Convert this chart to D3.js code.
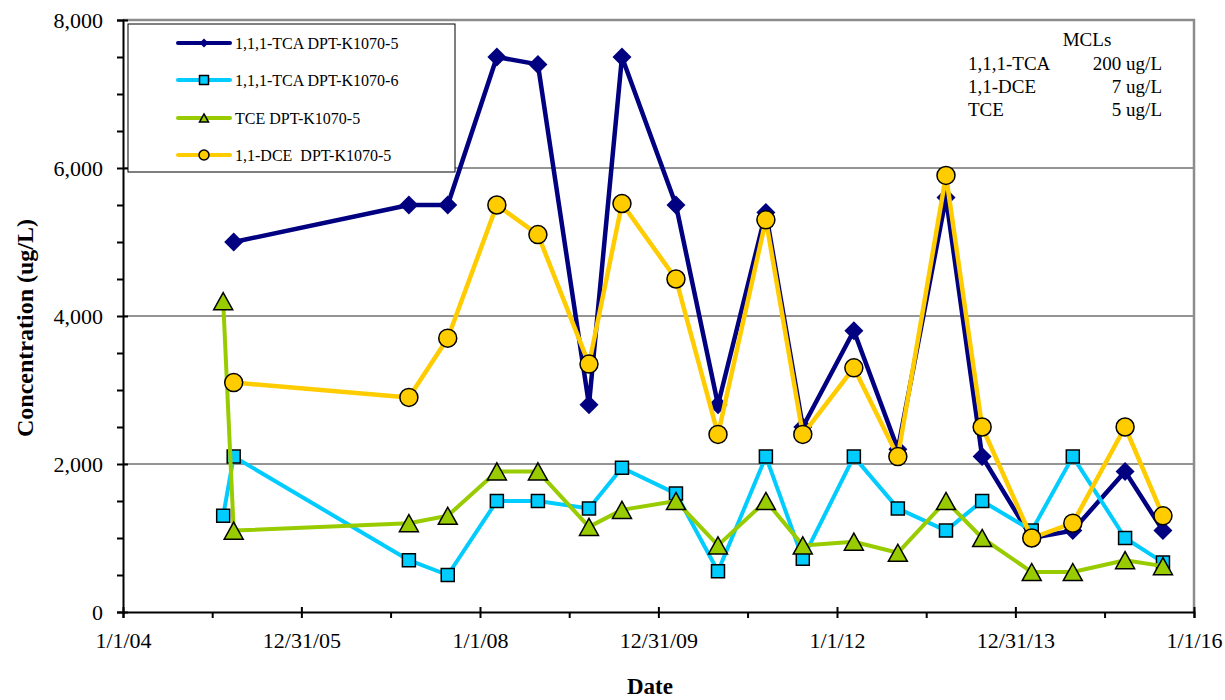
<!DOCTYPE html>
<html>
<head>
<meta charset="utf-8">
<script src="https://cdn.jsdelivr.net/npm/d3@7"></script>
<style>
  body { margin: 0; background: #fff; }
  svg { display: block; }
  text { font-family: "Liberation Serif", "Times New Roman", serif; fill: #000; }
</style>
</head>
<body>
<svg id="chart" width="1225" height="700"></svg>
<script>
// Sampling dates for well DPT-K1070 (null = not sampled for that series)
const sampleDates = [
  "2005-02-14", "2005-03-29", "2007-03-16", "2007-08-22", "2008-03-10",
  "2008-08-25", "2009-03-22", "2009-08-04", "2010-03-13", "2010-09-01",
  "2011-03-16", "2011-08-14", "2012-03-10", "2012-09-06", "2013-03-22",
  "2013-08-17", "2014-03-08", "2014-08-23", "2015-03-25", "2015-08-27"
];
const tca5 = [null, 5000, 5500, 5500, 7500, 7400, 2800, 7500, 5500, 2800,
              5400, 2500, 3800, 2200, 5600, 2100, 1000, 1100, 1900, 1100];
const tca6 = [1300, 2100, 700, 500, 1500, 1500, 1400, 1950, 1600, 550,
              2100, 720, 2100, 1400, 1100, 1500, 1100, 2100, 1000, 670];
const tce5 = [4200, 1100, 1200, 1300, 1900, 1900, 1150, 1380, 1500, 900,
              1500, 900, 950, 800, 1500, 1000, 540, 540, 700, 620];
const dce5 = [null, 3100, 2900, 3700, 5500, 5100, 3350, 5520, 4500, 2400,
              5300, 2400, 3300, 2100, 5900, 2500, 1000, 1200, 2500, 1300];

const seriesNames = ["1,1,1-TCA DPT-K1070-5", "1,1,1-TCA DPT-K1070-6", "TCE DPT-K1070-5", "1,1-DCE  DPT-K1070-5"];

// Axis ticks
const xTickDates = ["2004-01-01", "2005-12-31", "2008-01-01", "2009-12-31", "2012-01-01", "2013-12-31", "2016-01-01"];
const xTickLabels = ["1/1/04", "12/31/05", "1/1/08", "12/31/09", "1/1/12", "12/31/13", "1/1/16"];
const yTicks = [0, 2000, 4000, 6000, 8000];
const yMinorTicks = [500, 1000, 1500, 2500, 3000, 3500, 4500, 5000, 5500, 6500, 7000, 7500];

// MCL note
const mclTitle = "MCLs";
const mclNames = ["1,1,1-TCA", "1,1-DCE", "TCE"];
const mclValues = ["200 ug/L", "7 ug/L", "5 ug/L"];

const parse = d3.utcParse("%Y-%m-%d");
const dates = sampleDates.map(parse);
const xTicks = xTickDates.map(parse);
const xMinor = xTicks.slice(0, -1).map(d => d3.utcDay.offset(d, 365));

const svg = d3.select("#chart");
const plotL = 123, plotR = 1194, plotT = 20, plotB = 612;

const x = d3.scaleUtc().domain([xTicks[0], xTicks[xTicks.length - 1]]).range([plotL, plotR]);
const y = d3.scaleLinear().domain([0, 8000]).range([plotB, plotT]);

// Horizontal gridlines
svg.append("g")
  .selectAll("line")
  .data(yTicks.filter(v => v > 0 && v < 8000))
  .join("line")
  .attr("x1", plotL).attr("x2", plotR)
  .attr("y1", d => y(d)).attr("y2", d => y(d))
  .attr("stroke", "#2a2a2a").attr("stroke-width", 1);

// Plot area border (top and right)
svg.append("path")
  .attr("d", `M${plotL},${y(8000)}H${plotR}V${plotB}`)
  .attr("fill", "none").attr("stroke", "#8c8c8c").attr("stroke-width", 2.5);

// Marker shapes
function markerPath(shape, s) {
  const p = d3.path();
  if (shape === "diamond") {
    p.moveTo(0, -s / 2); p.lineTo(s / 2, 0); p.lineTo(0, s / 2); p.lineTo(-s / 2, 0); p.closePath();
  } else if (shape === "square") {
    p.rect(-s / 2, -s / 2, s, s);
  } else if (shape === "triangle") {
    const h = s * 0.9;
    p.moveTo(0, -h / 2); p.lineTo(s / 2, h / 2); p.lineTo(-s / 2, h / 2); p.closePath();
  } else {
    p.arc(0, 0, s / 2, 0, 2 * Math.PI);
  }
  return p.toString();
}

const series = [
  { name: seriesNames[0], values: tca5, color: "#000080", width: 4.5, shape: "diamond", size: 19, fill: "#000080", stroke: "none", lsize: 9 },
  { name: seriesNames[1], values: tca6, color: "#00CCFF", width: 4, shape: "square", size: 13, fill: "#00CCFF", stroke: "#000", lsize: 9 },
  { name: seriesNames[2], values: tce5, color: "#99CC00", width: 4, shape: "triangle", size: 19, fill: "#99CC00", stroke: "#000", lsize: 9 },
  { name: seriesNames[3], values: dce5, color: "#FFCC00", width: 4.5, shape: "circle", size: 18, fill: "#FFCC00", stroke: "#000", lsize: 10 }
];

const line = d3.line()
  .defined(d => d.v != null)
  .x(d => x(d.date))
  .y(d => y(d.v));

series.forEach(s => {
  const pts = dates.map((d, i) => ({ date: d, v: s.values[i] }));
  const g = svg.append("g");
  g.append("path")
    .datum(pts)
    .attr("d", line)
    .attr("fill", "none")
    .attr("stroke", s.color)
    .attr("stroke-width", s.width)
    .attr("stroke-linejoin", "round");
  g.selectAll("path.m")
    .data(pts.filter(p => p.v != null))
    .join("path")
    .attr("class", "m")
    .attr("transform", p => `translate(${x(p.date)},${y(p.v)})`)
    .attr("d", markerPath(s.shape, s.size))
    .attr("fill", s.fill)
    .attr("stroke", s.stroke)
    .attr("stroke-width", 1.5);
});

// Axes
const xAxis = svg.append("g")
  .attr("transform", `translate(0,${plotB})`)
  .call(d3.axisBottom(x).tickValues(xTicks).tickSize(6).tickPadding(14)
    .tickFormat((d, i) => xTickLabels[i]));
svg.append("g")
  .attr("transform", `translate(0,${plotB})`)
  .call(d3.axisBottom(x).tickValues(xTicks).tickSize(-5).tickFormat(""))
  .call(g => g.select(".domain").remove());
svg.append("g")
  .attr("transform", `translate(0,${plotB})`)
  .call(d3.axisBottom(x).tickValues(xMinor).tickSize(6).tickFormat(""))
  .call(g => g.select(".domain").remove());

const yAxis = svg.append("g")
  .attr("transform", `translate(${plotL},0)`)
  .call(d3.axisLeft(y).tickValues(yTicks).tickSize(6).tickPadding(14).tickFormat(d3.format(",")));
svg.append("g")
  .attr("transform", `translate(${plotL},0)`)
  .call(d3.axisLeft(y).tickValues(yTicks).tickSize(-5).tickFormat(""))
  .call(g => g.select(".domain").remove());
svg.append("g")
  .attr("transform", `translate(${plotL},0)`)
  .call(d3.axisLeft(y).tickValues(yMinorTicks).tickSize(6).tickFormat(""))
  .call(g => g.select(".domain").remove());

svg.selectAll(".domain").attr("stroke", "#000").attr("stroke-width", 2);
svg.selectAll(".tick line").attr("stroke", "#000").attr("stroke-width", 2);
svg.selectAll(".tick text")
  .attr("font-family", "'Liberation Serif', 'Times New Roman', serif")
  .attr("font-size", 22)
  .attr("fill", "#000");
xAxis.selectAll(".tick text").attr("y", 20);

// Axis titles
svg.append("text")
  .attr("x", 650).attr("y", 694)
  .attr("text-anchor", "middle")
  .attr("font-size", 23).attr("font-weight", "bold")
  .text("Date");
svg.append("text")
  .attr("transform", "translate(33,328) rotate(-90)")
  .attr("text-anchor", "middle")
  .attr("font-size", 24).attr("font-weight", "bold")
  .text("Concentration (ug/L)");

// Legend
const legend = svg.append("g");
legend.append("rect")
  .attr("x", 128).attr("y", 24).attr("width", 327).attr("height", 148)
  .attr("fill", "#fff").attr("stroke", "#000").attr("stroke-width", 1);
const rowY = [43, 80, 118, 155];
series.forEach((s, i) => {
  const gy = rowY[i];
  legend.append("line")
    .attr("x1", 178).attr("x2", 230).attr("y1", gy).attr("y2", gy)
    .attr("stroke", s.color).attr("stroke-width", 4).attr("stroke-linecap", "round");
  legend.append("path")
    .attr("transform", `translate(204,${gy})`)
    .attr("d", markerPath(s.shape, s.lsize))
    .attr("fill", s.fill).attr("stroke", s.stroke).attr("stroke-width", 1.5);
  legend.append("text")
    .attr("x", 235).attr("y", gy + 6)
    .attr("font-size", 16)
    .style("white-space", "pre")
    .text(s.name);
});

// MCL note
const note = svg.append("g").attr("font-size", 19);
note.append("text").attr("x", 1087).attr("y", 46).attr("text-anchor", "middle").text(mclTitle);
mclNames.forEach((n, i) => {
  const by = 70 + i * 23;
  note.append("text").attr("x", 968).attr("y", by).text(n);
  note.append("text").attr("x", 1162).attr("y", by).attr("text-anchor", "end").text(mclValues[i]);
});
</script>
</body>
</html>
